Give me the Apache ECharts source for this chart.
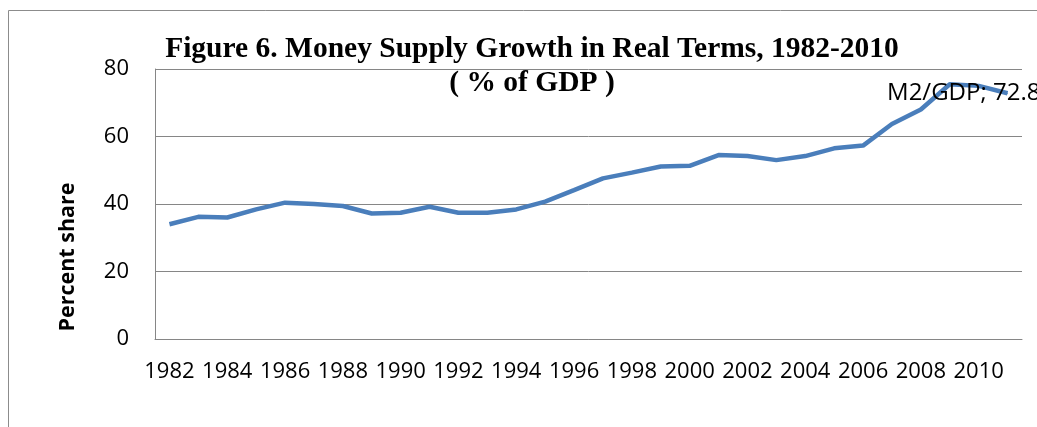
<!DOCTYPE html>
<html>
<head>
<meta charset="utf-8">
<script src="https://cdn.jsdelivr.net/npm/echarts@6/dist/echarts.min.js"></script>
<style>
  html, body { margin: 0; padding: 0; background: #fff; }
</style>
</head>
<body>
<div id="MyChart" style="width: 1037px;height:427px;"></div>
<script>
// years 1982-2011, labels shown every other year
var years = ['1982', '1983', '1984', '1985', '1986', '1987', '1988', '1989', '1990', '1991',
  '1992', '1993', '1994', '1995', '1996', '1997', '1998', '1999', '2000', '2001',
  '2002', '2003', '2004', '2005', '2006', '2007', '2008', '2009', '2010', '2011']
// M2/GDP, percent
var m2gdp = [34.0, 36.2, 36.0, 38.4, 40.4, 40.0, 39.4, 37.2, 37.4, 39.2,
  37.4, 37.4, 38.4, 40.7, 44.1, 47.6, 49.3, 51.1, 51.3, 54.5,
  54.2, 53.0, 54.2, 56.5, 57.3, 63.7, 68.0, 75.5, 75.0, 72.8]
var yTicks = [0, 20, 40, 60, 80]

// last point carries the data label
var seriesData = m2gdp.map(function (v, i) {
  if (i === m2gdp.length - 1) {
    return {
      value: v,
      symbol: 'circle',
      symbolSize: 1,
      label: {
        show: true,
        formatter: 'M2/GDP; ' + v,
        position: 'left',
        align: 'left',
        offset: [-115, 0],
        color: '#000',
        fontFamily: 'Open Sans',
        fontSize: 24
      }
    }
  }
  return v
})

var myChart = echarts.init(document.getElementById('MyChart'))
var option = {
  animation: false,
  title: {
    text: 'Figure 6. Money Supply Growth in Real Terms, 1982-2010\n( % of GDP )',
    left: 527,
    top: 27,
    textAlign: 'center',
    textStyle: {
      fontFamily: 'Liberation Serif',
      fontWeight: 'bold',
      fontSize: 29.5,
      lineHeight: 34,
      color: '#000'
    }
  },
  graphic: [
    {
      type: 'rect',
      shape: { x: 8.5, y: 10.5, width: 1200, height: 600 },
      style: { fill: 'none', stroke: '#8c8c8c', lineWidth: 1 },
      silent: true
    },
    {
      type: 'text',
      x: 68,
      y: 257,
      rotation: Math.PI / 2,
      style: {
        text: 'Percent share',
        fontFamily: 'Open Sans',
        fontWeight: 'bold',
        fontSize: 21.5,
        fill: '#000',
        align: 'center',
        verticalAlign: 'middle'
      }
    }
  ],
  grid: {
    left: 155,
    right: 15,
    top: 69,
    bottom: 88
  },
  xAxis: {
    type: 'category',
    data: years,
    boundaryGap: true,
    axisLine: { lineStyle: { color: '#868686', width: 1 } },
    axisTick: { show: false },
    axisLabel: {
      interval: 1,
      margin: 22,
      color: '#000',
      fontFamily: 'Open Sans',
      fontSize: 22
    }
  },
  yAxis: {
    type: 'value',
    min: yTicks[0],
    max: yTicks[yTicks.length - 1],
    interval: 20,
    axisLine: { show: true, lineStyle: { color: '#868686', width: 1 } },
    axisTick: { show: false },
    splitLine: { lineStyle: { color: '#868686', width: 1 } },
    axisLabel: {
      margin: 26,
      color: '#000',
      fontFamily: 'Open Sans',
      fontSize: 22
    }
  },
  series: [
    {
      name: 'M2/GDP',
      type: 'line',
      data: seriesData,
      symbol: 'none',
      lineStyle: { color: '#4a7ebb', width: 4.5 },
      itemStyle: { color: '#4a7ebb' }
    }
  ]
}
myChart.setOption(option)
</script>
</body>
</html>
